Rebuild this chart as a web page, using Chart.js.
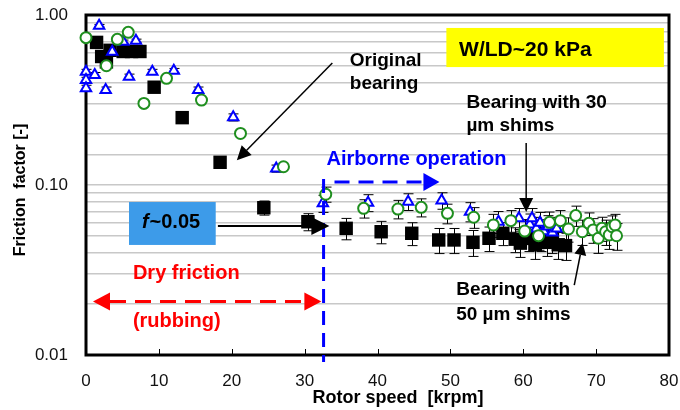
<!DOCTYPE html>
<html>
<head>
<meta charset="utf-8">
<script src="https://cdn.jsdelivr.net/npm/chart.js@4"></script>
<style>
  html, body { margin: 0; padding: 0; background: #fff; }
</style>
</head>
<body>
<canvas id="chart" width="680" height="410"></canvas>
<script>
// friction factor vs rotor speed, W/LD ~ 20 kPa
const origSpeed = [1.45, 2.15, 2.8, 3.3, 5.1, 6.25, 7.4, 9.35, 13.2, 18.4, 24.4, 30.45, 35.7, 40.5, 44.7,
  48.4, 50.5, 53.1, 55.3, 57.2, 58.9, 59.6, 60.8, 61.6, 62.4, 63.2, 64.0, 64.8, 65.8];
const origFriction = [0.69, 0.57, 0.53, 0.62, 0.61, 0.61, 0.61, 0.376, 0.249, 0.136, 0.0735, 0.0608, 0.0556, 0.0531, 0.052,
  0.0475, 0.0475, 0.046, 0.0486, 0.052, 0.048, 0.0455, 0.0486, 0.0445, 0.0486, 0.046, 0.0475, 0.0445, 0.044];
const origErr = [0, 0, 0, 0, 0, 0, 0, 0, 0, 0, 0.007, 0.007, 0.008, 0.008, 0.008,
  0.008, 0.008, 0.008, 0.008, 0.008, 0.008, 0.008, 0.008, 0.008, 0.008, 0.008, 0.008, 0.008, 0.008];

const shim30Speed = [0, 0, 0, 1.2, 1.8, 2.7, 3.6, 5.1, 5.9, 6.85, 9.1, 12.05, 15.4, 20.2, 26.1,
  32.5, 38.7, 44.2, 48.8, 52.7, 56.6, 59.4, 60.9, 61.2, 61.8, 62.3, 62.8, 63.4, 64.0, 64.6];
const shim30Friction = [0.464, 0.415, 0.371, 0.444, 0.865, 0.362, 0.608, 0.697, 0.434, 0.706, 0.464, 0.47, 0.362, 0.25, 0.125,
  0.078, 0.0787, 0.0798, 0.081, 0.0697, 0.0608, 0.0637, 0.0585, 0.0637, 0.0555, 0.06, 0.0535, 0.057, 0.0525, 0.0555];
const shim30Err = [0.015, 0.015, 0.015, 0.015, 0.015, 0.015, 0.015, 0.015, 0.015, 0.015, 0.015, 0.015, 0.015, 0.012, 0.006,
  0.009, 0.009, 0.009, 0.009, 0.009, 0.009, 0.009, 0.009, 0.009, 0.009, 0.009, 0.009, 0.009, 0.009, 0.009];

const shim50Speed = [0, 2.8, 4.3, 5.8, 7.95, 11.05, 15.85, 21.2, 27.1, 32.9, 38.1, 42.8, 46.0, 49.6, 53.2, 55.9, 58.3,
  60.2, 62.1, 63.6, 65.1, 66.2, 67.2, 68.1, 69.0, 69.6, 70.3, 70.8, 71.3, 71.8, 72.2, 72.6, 72.8];
const shim50Friction = [0.736, 0.503, 0.719, 0.791, 0.302, 0.424, 0.316, 0.201, 0.128, 0.0882, 0.0729, 0.0722, 0.0739, 0.0681, 0.0646, 0.0582, 0.0617,
  0.0536, 0.0503, 0.0603, 0.0617, 0.0551, 0.0661, 0.0531, 0.0595, 0.0544, 0.0486, 0.0556, 0.0531, 0.0508, 0.0568, 0.0582, 0.0503];
const shim50Err = [0, 0, 0, 0, 0, 0, 0, 0, 0, 0.009, 0.009, 0.009, 0.009, 0.009, 0.009, 0.009, 0.009,
  0.009, 0.009, 0.009, 0.009, 0.009, 0.009, 0.009, 0.009, 0.009, 0.009, 0.009, 0.009, 0.009, 0.009, 0.009, 0.009];

const decadeLabels = ['0.01', '0.10', '1.00'];
const speedTicks = [0, 10, 20, 30, 40, 50, 60, 70, 80];

const FAMILY = '"Liberation Sans", Arial, sans-serif';
const font = (size, weight = 'bold', style = 'normal') => `${style} ${weight} ${size}px ${FAMILY}`;

const toPoints = (xs, ys, errs) => xs.map((v, i) => ({ x: v, y: ys[i], err: errs[i] }));

// filled arrow head at (x2, y2), optional second head at (x1, y1)
function arrow(ctx, x1, y1, x2, y2, opt) {
  const { color = '#000', width = 1.5, head = 14, half = 7, dash = [], both = false } = opt || {};
  const ang = Math.atan2(y2 - y1, x2 - x1);
  const cs = Math.cos(ang), sn = Math.sin(ang);
  const sx = both ? x1 + cs * head : x1, sy = both ? y1 + sn * head : y1;
  const ex = x2 - cs * head, ey = y2 - sn * head;
  ctx.save();
  ctx.strokeStyle = color;
  ctx.fillStyle = color;
  ctx.lineWidth = width;
  ctx.setLineDash(dash);
  ctx.beginPath();
  ctx.moveTo(sx, sy);
  ctx.lineTo(ex, ey);
  ctx.stroke();
  ctx.setLineDash([]);
  const tip = (tx, ty, bx, by) => {
    ctx.beginPath();
    ctx.moveTo(tx, ty);
    ctx.lineTo(bx - sn * half, by + cs * half);
    ctx.lineTo(bx + sn * half, by - cs * half);
    ctx.closePath();
    ctx.fill();
  };
  tip(x2, y2, ex, ey);
  if (both) tip(x1, y1, sx, sy);
  ctx.restore();
}

const errorBars = {
  id: 'errorBars',
  beforeDatasetsDraw(chart) {
    const { ctx, scales: { x, y } } = chart;
    ctx.save();
    ctx.strokeStyle = '#000';
    ctx.lineWidth = 1;
    chart.data.datasets.forEach(ds => {
      ds.data.forEach(p => {
        if (!p.err) return;
        const px = Math.round(x.getPixelForValue(p.x)) + 0.5;
        const top = y.getPixelForValue(p.y + p.err);
        const bot = y.getPixelForValue(p.y - p.err);
        ctx.beginPath();
        ctx.moveTo(px, top); ctx.lineTo(px, bot);
        ctx.moveTo(px - 5, top); ctx.lineTo(px + 5, top);
        ctx.moveTo(px - 5, bot); ctx.lineTo(px + 5, bot);
        ctx.stroke();
      });
    });
    ctx.restore();
  }
};

const frame = {
  id: 'frame',
  beforeDatasetsDraw(chart) {
    const { ctx, chartArea: a, scales: { x } } = chart;
    ctx.save();
    ctx.strokeStyle = '#000';
    ctx.lineWidth = 1;
    speedTicks.slice(1, -1).forEach(v => {
      const px = Math.round(x.getPixelForValue(v)) + 0.5;
      ctx.beginPath();
      ctx.moveTo(px, a.bottom);
      ctx.lineTo(px, a.bottom - 6);
      ctx.stroke();
    });
    ctx.lineWidth = 3;
    ctx.strokeRect(a.left, a.top, a.right - a.left, a.bottom - a.top);
    ctx.restore();
  }
};

const notes = {
  id: 'notes',
  afterDatasetsDraw(chart) {
    const { ctx, chartArea: a, scales: { x, y } } = chart;
    const X = v => x.getPixelForValue(v);
    const Y = v => y.getPixelForValue(v);
    const text = (s, px, py, color = '#000', size = 19) => {
      ctx.font = font(size);
      ctx.fillStyle = color;
      ctx.fillText(s, px, py);
    };
    ctx.save();
    ctx.textBaseline = 'alphabetic';
    ctx.textAlign = 'left';

    // onset of airborne operation
    ctx.save();
    ctx.strokeStyle = '#0000ff';
    ctx.lineWidth = 3;
    ctx.setLineDash([14, 8]);
    ctx.beginPath();
    ctx.moveTo(X(32.6), Y(0.1084));
    ctx.lineTo(X(32.6), a.bottom + 7);
    ctx.stroke();
    ctx.restore();
    arrow(ctx, X(34.1), Y(0.104), X(48.5), Y(0.104), { color: '#0000ff', width: 3, head: 16, half: 9, dash: [15, 9] });
    text('Airborne operation', X(33.0), Y(0.131), '#0000ff', 20);

    // dry friction band
    arrow(ctx, X(0.96), Y(0.02065), X(32.3), Y(0.02065), { color: '#ff0000', width: 3, head: 17, half: 9, dash: [16, 9], both: true });
    text('Dry friction', X(6.44), Y(0.028), '#ff0000', 20);
    text('(rubbing)', X(6.44), Y(0.0146), '#ff0000', 20);

    // f ~ 0.05 box
    ctx.fillStyle = '#3d9be9';
    ctx.fillRect(X(5.9), Y(0.0794), X(17.8) - X(5.9), Y(0.0444) - Y(0.0794));
    ctx.fillStyle = '#000';
    ctx.font = font(20, 'bold', 'italic');
    const fx = X(7.67), fy = Y(0.0558);
    ctx.fillText('f', fx, fy);
    const fw = ctx.measureText('f').width;
    text('~0.05', fx + fw + 1, fy, '#000', 20);
    arrow(ctx, X(18.1), Y(0.0574), X(33.4), Y(0.0574), { width: 2, head: 18, half: 9 });

    // load box
    ctx.fillStyle = '#ffff00';
    ctx.fillRect(X(49.45), Y(0.839), X(79.3) - X(49.45), Y(0.494) - Y(0.839));
    text('W/LD~20 kPa', X(51.2), Y(0.574), '#000', 21);

    // series call-outs
    text('Original', X(36.2), Y(0.501));
    text('bearing', X(36.2), Y(0.367));
    arrow(ctx, X(33.8), Y(0.522), X(20.7), Y(0.140), { width: 1.5, head: 14, half: 7 });

    text('Bearing with 30', X(52.2), Y(0.284));
    text('\u00b5m shims', X(52.2), Y(0.208));
    arrow(ctx, X(60.4), Y(0.1766), X(60.4), Y(0.0694), { width: 1.5, head: 14, half: 7 });

    text('Bearing with', X(50.8), Y(0.02254));
    text('50 \u00b5m shims', X(50.8), Y(0.01606));
    arrow(ctx, X(67.0), Y(0.0258), X(68.15), Y(0.0456), { width: 1.5, head: 12, half: 6 });

    // axis titles
    ctx.fillStyle = '#000';
    ctx.font = font(18);
    ctx.textAlign = 'center';
    ctx.textBaseline = 'middle';
    ctx.fillText('Rotor speed  [krpm]', 398, 398);
    ctx.translate(21, 190);
    ctx.rotate(-Math.PI / 2);
    ctx.font = font(16);
    ctx.fillText('Friction  factor [-]', 0, 0);
    ctx.restore();
  }
};

new Chart(document.getElementById('chart'), {
  type: 'scatter',
  data: {
    datasets: [
      {
        label: 'Bearing with 50 \u00b5m shims',
        data: toPoints(shim50Speed, shim50Friction, shim50Err),
        pointStyle: 'circle',
        pointRadius: 5.5,
        borderColor: '#1f8f1f',
        backgroundColor: '#ffffff',
        borderWidth: 2,
        clip: false,
        order: 0,
      },
      {
        label: 'Bearing with 30 \u00b5m shims',
        data: toPoints(shim30Speed, shim30Friction, shim30Err),
        pointStyle: 'triangle',
        pointRadius: 6,
        borderColor: '#0000ff',
        backgroundColor: '#ffffff',
        borderWidth: 2,
        clip: false,
        order: 1,
      },
      {
        label: 'Original bearing',
        data: toPoints(origSpeed, origFriction, origErr),
        pointStyle: 'rect',
        pointRadius: 9.5,
        borderColor: '#000000',
        backgroundColor: '#000000',
        borderWidth: 0,
        clip: false,
        order: 2,
      },
    ],
  },
  options: {
    responsive: false,
    animation: false,
    events: [],
    layout: { autoPadding: false, padding: { left: 0, top: 15, right: 11, bottom: 0 } },
    plugins: { legend: { display: false }, tooltip: { enabled: false } },
    scales: {
      x: {
        type: 'linear',
        min: speedTicks[0],
        max: speedTicks[speedTicks.length - 1],
        afterBuildTicks: s => { s.ticks = speedTicks.map(v => ({ value: v })); },
        afterFit: s => { s.height = 55; s.paddingLeft = 0; s.paddingRight = 0; },
        grid: { display: false, drawTicks: false },
        border: { display: false },
        ticks: { padding: 16, color: '#111', font: { family: FAMILY, size: 17 } },
      },
      y: {
        type: 'logarithmic',
        min: 0.01,
        max: 1,
        afterFit: s => { s.width = 86; s.paddingTop = 0; s.paddingBottom = 0; },
        grid: { color: '#c8c8c8', lineWidth: 1.5, drawTicks: false },
        border: { display: false },
        ticks: {
          autoSkip: false,
          padding: 18,
          color: '#111',
          font: { family: FAMILY, size: 17 },
          callback: v => decadeLabels.find(l => Math.abs(parseFloat(l) - v) < 1e-9) || '',
        },
      },
    },
  },
  plugins: [errorBars, frame, notes],
});
</script>
</body>
</html>
